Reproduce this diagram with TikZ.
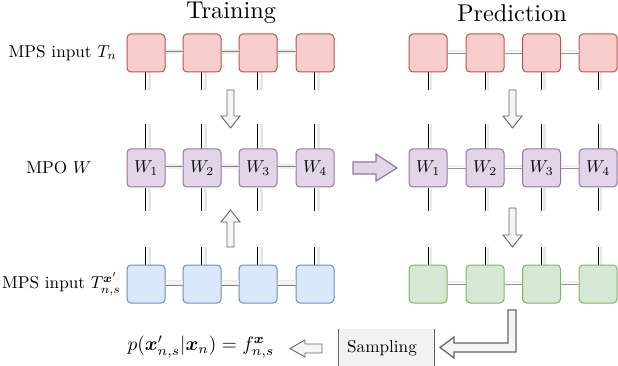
\documentclass[tikz,border=0pt]{standalone}
\usepackage{amsmath,bm,graphicx}
\definecolor{pinkF}{HTML}{F8CECC}\definecolor{pinkD}{HTML}{B85450}
\definecolor{purF}{HTML}{E1D5E7}\definecolor{purD}{HTML}{9673A6}
\definecolor{bluF}{HTML}{DAE8FC}\definecolor{bluD}{HTML}{6C8EBF}
\definecolor{grnF}{HTML}{D5E8D4}\definecolor{grnD}{HTML}{82B366}
\definecolor{arrF}{HTML}{F5F5F5}\definecolor{arrD}{HTML}{666666}
\definecolor{sampF}{HTML}{F2F2F2}
\newcommand{\SB}[1]{\scalebox{1.72}{#1}}
\newcommand{\SBT}[1]{\scalebox{2.43}{#1}}
\tikzset{
  tensor/.style={rectangle, rounded corners=4pt, minimum width=38pt, minimum height=38pt, line width=1pt, inner sep=0pt},
  pinkbox/.style={tensor, fill=pinkF, draw=pinkD},
  purbox/.style={tensor, fill=purF, draw=purD},
  blubox/.style={tensor, fill=bluF, draw=bluD},
  grnbox/.style={tensor, fill=grnF, draw=grnD},
  lbl/.style={inner sep=0pt},
  bonddbl/.style={draw=black!50, double=gray!12, double distance=1.4pt, line width=0.8pt},
  bondsgl/.style={draw=gray!85, line width=0.9pt},
  legshadow/.style={draw=gray!18, line width=2.5pt},
  legdbl/.style={draw=black, double=white, double distance=1pt, line width=0.75pt},
  legsgl/.style={draw=black, line width=0.9pt},
  blockarrow/.style={fill=arrF, draw=arrD, line width=0.9pt, line join=miter},
  purarrow/.style={fill=purF, draw=purD, line width=1.2pt, line join=miter}
}
\begin{document}
\begin{tikzpicture}[x=1pt,y=-1pt]
\useasboundingbox (0,0) rectangle (618,366);

% titles
\node[lbl] (ttrain) at (231,13) {\SBT{Training}};
\node[lbl] (tpred) at (512,13) {\SBT{Prediction}};

% row labels
\node[lbl, anchor=east] (l1) at (117,53) {\SB{MPS input $T_n$}};
\node[lbl] (l2) at (59,168) {\SB{MPO $W$}};
\node[lbl, anchor=east] (l3) at (121,284) {\SB{MPS input $T^{\bm{x}'}_{n,s}$}};

\def\LA{146}\def\LB{202}\def\LC{258}\def\LD{315}
\def\RA{428}\def\RB{485}\def\RC{541.5}\def\RD{598}

% ---------- legs (left) ----------
\foreach \x in {\LA,\LB,\LC,\LD}{
  \draw[legshadow] (\x+3.5,72) -- (\x+3.5,90);
  \draw[legdbl] (\x,72) -- (\x,90);
  \draw[legshadow] (\x+3.5,124) -- (\x+3.5,149);
  \draw[legdbl] (\x,124) -- (\x,149);
  \draw[legshadow] (\x+3.5,188) -- (\x+3.5,211);
  \draw[legdbl] (\x,188) -- (\x,211);
  \draw[legshadow] (\x+3.5,247) -- (\x+3.5,266);
  \draw[legdbl] (\x,247) -- (\x,266);
}
% ---------- legs (right) ----------
\foreach \x in {\RA,\RB,\RC,\RD}{
  \draw[legshadow] (\x+3,72) -- (\x+3,90);
  \draw[legsgl] (\x,72) -- (\x,90);
  \draw[legshadow] (\x+3,124) -- (\x+3,149);
  \draw[legsgl] (\x,124) -- (\x,149);
  \draw[legshadow] (\x+3,188) -- (\x+3,211);
  \draw[legsgl] (\x,188) -- (\x,211);
  \draw[legshadow] (\x+3,247) -- (\x+3,266);
  \draw[legsgl] (\x,247) -- (\x,266);
}

% ---------- left column nodes ----------
\node[pinkbox] (a1) at (\LA,53) {};
\node[pinkbox] (a2) at (\LB,53) {};
\node[pinkbox] (a3) at (\LC,53) {};
\node[pinkbox] (a4) at (\LD,53) {};
\node[purbox] (w1) at (\LA,168) {\SB{$W_1$}};
\node[purbox] (w2) at (\LB,168) {\SB{$W_2$}};
\node[purbox] (w3) at (\LC,168) {\SB{$W_3$}};
\node[purbox] (w4) at (\LD,168) {\SB{$W_4$}};
\node[blubox] (b1) at (\LA,284) {};
\node[blubox] (b2) at (\LB,284) {};
\node[blubox] (b3) at (\LC,284) {};
\node[blubox] (b4) at (\LD,284) {};

% ---------- right column nodes ----------
\node[pinkbox] (c1) at (\RA,53) {};
\node[pinkbox] (c2) at (\RB,53) {};
\node[pinkbox] (c3) at (\RC,53) {};
\node[pinkbox] (c4) at (\RD,53) {};
\node[purbox] (v1) at (\RA,168) {\SB{$W_1$}};
\node[purbox] (v2) at (\RB,168) {\SB{$W_2$}};
\node[purbox] (v3) at (\RC,168) {\SB{$W_3$}};
\node[purbox] (v4) at (\RD,168) {\SB{$W_4$}};
\node[grnbox] (g1) at (\RA,284) {};
\node[grnbox] (g2) at (\RB,284) {};
\node[grnbox] (g3) at (\RC,284) {};
\node[grnbox] (g4) at (\RD,284) {};

% ---------- bonds ----------
\foreach \p/\q in {a1/a2,a2/a3,a3/a4,w1/w2,w2/w3,w3/w4,b1/b2,b2/b3,b3/b4}{
  \draw[draw=gray!15, line width=2pt] ([yshift=3pt]\p.east) -- ([yshift=3pt]\q.west);
  \draw[bonddbl] (\p.east) -- (\q.west);
}
\foreach \p/\q in {c1/c2,c2/c3,c3/c4,v1/v2,v2/v3,v3/v4,g1/g2,g2/g3,g3/g4}{
  \draw[draw=gray!12, line width=2pt] ([yshift=1.8pt]\p.east) -- ([yshift=1.8pt]\q.west);
  \draw[bondsgl] (\p.east) -- (\q.west);
}

% ---------- block arrows ----------
\draw[blockarrow] (227,90) -- (234,90) -- (234,116) -- (240,116) -- (230.5,128) -- (221,116) -- (227,116) -- cycle;
\draw[blockarrow] (227,247) -- (234,247) -- (234,222) -- (240,222) -- (230.5,210) -- (221,222) -- (227,222) -- cycle;
\draw[blockarrow] (509,90) -- (516,90) -- (516,116) -- (522,116) -- (512.5,128) -- (503,116) -- (509,116) -- cycle;
\draw[blockarrow] (509,208) -- (516,208) -- (516,235) -- (522,235) -- (512.5,247) -- (503,235) -- (509,235) -- cycle;
\draw[purarrow] (353,162) -- (376,162) -- (376,154) -- (397,168) -- (376,181) -- (376,174) -- (353,174) -- cycle;
\draw[blockarrow, line width=1.3pt] (508,310) -- (516,310) -- (516,352) -- (454,352) -- (454,358) -- (440,347.5) -- (454,337) -- (454,343) -- (508,343) -- cycle;

% ---------- sampling ----------
\fill[sampF] (338,329) rectangle (434,366);
\draw[arrD, line width=0.9pt] (338,329) -- (338,366);
\draw[arrD, line width=0.9pt] (434,329) -- (434,366);
\node[lbl] (samp) at (382,348) {\scalebox{1.72}{Sampling}};

\draw[blockarrow] (322,344) -- (305,344) -- (305,340) -- (290,348.5) -- (305,357) -- (305,353) -- (322,353) -- cycle;

\node[lbl] (form) at (201,347) {\scalebox{1.94}{$p(\bm{x}'_{n,s}|\bm{x}_n) = f^{\bm{x}}_{n,s}$}};
\end{tikzpicture}
\end{document}
